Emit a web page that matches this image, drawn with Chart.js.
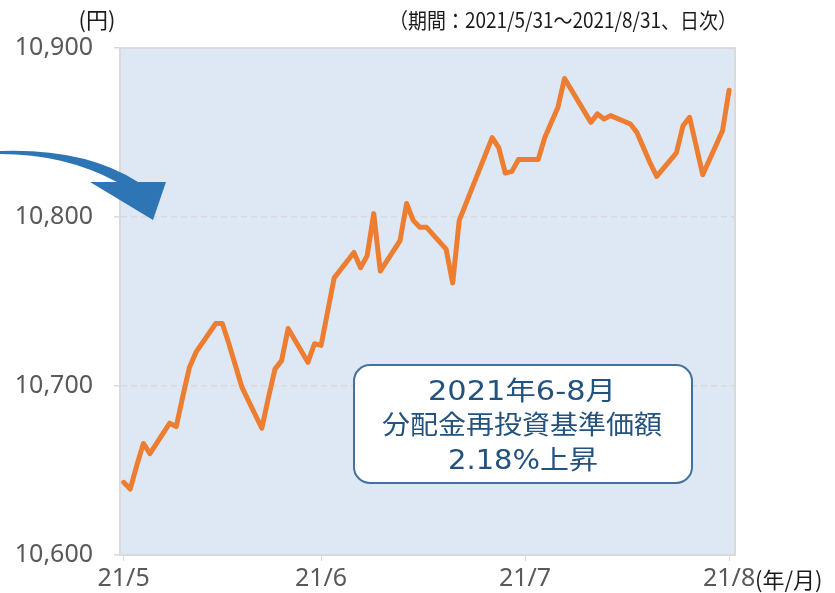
<!DOCTYPE html>
<html>
<head>
<meta charset="utf-8">
<script src="https://cdn.jsdelivr.net/npm/chart.js@4"></script>
<style>
  body { margin: 0; background: #fff; }
  canvas { display: block; }
</style>
</head>
<body>
<canvas id="NavCanvas" width="835" height="593"></canvas>
<script>
// 営業日 (2021/5/31 ~ 2021/8/31)
var navDates = [
    '2021/5/31',
    '2021/6/1', '2021/6/2', '2021/6/3', '2021/6/4', '2021/6/7', '2021/6/8', '2021/6/9', '2021/6/10', '2021/6/11',
    '2021/6/14', '2021/6/15', '2021/6/16', '2021/6/17', '2021/6/18', '2021/6/21', '2021/6/22', '2021/6/23', '2021/6/24',
    '2021/6/25', '2021/6/28', '2021/6/29', '2021/6/30',
    '2021/7/1', '2021/7/2', '2021/7/5', '2021/7/6', '2021/7/7', '2021/7/8', '2021/7/9', '2021/7/12', '2021/7/13',
    '2021/7/14', '2021/7/15', '2021/7/16', '2021/7/19', '2021/7/20', '2021/7/21', '2021/7/26', '2021/7/27', '2021/7/28',
    '2021/7/29', '2021/7/30',
    '2021/8/2', '2021/8/3', '2021/8/4', '2021/8/5', '2021/8/6', '2021/8/10', '2021/8/11', '2021/8/12', '2021/8/13',
    '2021/8/16', '2021/8/17', '2021/8/18', '2021/8/19', '2021/8/20', '2021/8/23', '2021/8/24', '2021/8/25', '2021/8/26',
    '2021/8/27', '2021/8/30', '2021/8/31'
];

// 分配金再投資基準価額 (円)
var navValues = [
    10643,
    10639, 10653, 10666, 10660, 10678, 10676, 10694, 10711, 10720,
    10737, 10737, 10725, 10712, 10699, 10675, 10693, 10710, 10715,
    10734, 10714, 10725, 10724,
    10744, 10764, 10779, 10770, 10777, 10802, 10768, 10786, 10808,
    10798, 10794, 10794, 10781, 10761, 10798, 10847, 10841, 10826,
    10827, 10834,
    10834, 10847, 10856, 10865, 10882, 10856, 10861, 10858, 10860,
    10855, 10850, 10841, 10832, 10824, 10838, 10854, 10859, 10842,
    10825, 10851, 10875
];

var tickDates = ['2021/5/31', '2021/6/30', '2021/7/31', '2021/8/31'];
var tickLabels = ['21/5', '21/6', '21/7', '21/8'];

var startDate = '2021/5/31';

function dayOffset(s) {
    var p = s.split('/');
    var q = startDate.split('/');
    return (Date.UTC(+p[0], p[1] - 1, +p[2]) - Date.UTC(+q[0], q[1] - 1, +q[2])) / 86400000;
}

var tickDays = tickDates.map(dayOffset);

var NavData = {
    datasets: [{
        label: '分配金再投資基準価額',
        data: navDates.map(function (d, i) { return { x: dayOffset(d), y: navValues[i] }; }),
        borderColor: '#ed7d31',
        borderWidth: 5,
        borderJoinStyle: 'round',
        borderCapStyle: 'round',
        pointRadius: 0,
        fill: false,
        tension: 0
    }]
};

var jpFont = '"Noto Sans CJK JP", sans-serif';

function fitText(ctx, text, cx, cy, w) {
    var m = ctx.measureText(text).width;
    ctx.save();
    ctx.translate(cx, cy);
    ctx.scale(w / m, 1);
    ctx.fillText(text, 0, 0);
    ctx.restore();
}

var decorPlugin = {
    id: 'decor',
    beforeDraw: function (chart) {
        var a = chart.chartArea, ctx = chart.ctx;
        ctx.save();
        ctx.fillStyle = '#dde8f4';
        ctx.fillRect(a.left, a.top, a.right - a.left, a.bottom - a.top);
        ctx.restore();
    },
    beforeDatasetsDraw: function (chart) {
        var a = chart.chartArea, ctx = chart.ctx;
        ctx.save();
        ctx.strokeStyle = '#dadada';
        ctx.lineWidth = 2;
        ctx.strokeRect(a.left, a.top, a.right - a.left, a.bottom - a.top);
        ctx.restore();
    },
    afterDraw: function (chart) {
        var ctx = chart.ctx;
        ctx.save();

        // 単位・期間
        ctx.fillStyle = '#1a1a1a';
        ctx.textBaseline = 'middle';
        ctx.font = '22px ' + jpFont;
        ctx.textAlign = 'center';
        ctx.fillText('(円)', 97, 20);
        ctx.font = '21px ' + jpFont;
        ctx.textAlign = 'right';
        ctx.fillText('（期間：2021/5/31～2021/8/31、日次）', 737, 20, 348);
        ctx.font = '22px ' + jpFont;
        ctx.textAlign = 'left';
        ctx.fillText('(年/月)', 755, 580);

        // 矢印
        ctx.fillStyle = '#2e75b6';
        ctx.beginPath();
        ctx.moveTo(0, 151);
        ctx.quadraticCurveTo(85, 148, 138, 182);
        ctx.lineTo(166, 182);
        ctx.lineTo(153, 220);
        ctx.lineTo(90, 182);
        ctx.lineTo(117, 182);
        ctx.quadraticCurveTo(65, 154, 0, 154);
        ctx.closePath();
        ctx.fill();

        // 注記ボックス
        var bx = 354, by = 365, bw = 338, bh = 118, r = 16;
        ctx.beginPath();
        ctx.moveTo(bx + r, by);
        ctx.arcTo(bx + bw, by, bx + bw, by + bh, r);
        ctx.arcTo(bx + bw, by + bh, bx, by + bh, r);
        ctx.arcTo(bx, by + bh, bx, by, r);
        ctx.arcTo(bx, by, bx + bw, by, r);
        ctx.closePath();
        ctx.fillStyle = '#ffffff';
        ctx.fill();
        ctx.lineWidth = 2;
        ctx.strokeStyle = '#41719c';
        ctx.stroke();

        ctx.fillStyle = '#24527e';
        ctx.textAlign = 'center';
        ctx.textBaseline = 'middle';
        ctx.font = '26px "DejaVu Sans", ' + jpFont;
        fitText(ctx, '2021年6-8月', 522, 393, 188);
        fitText(ctx, '分配金再投資基準価額', 522, 427, 280);
        fitText(ctx, '2.18%上昇', 523, 462, 150);

        ctx.restore();
    }
};

window.onload = function () {
    var NavCtx = document.getElementById('NavCanvas').getContext('2d');

    window.Nav = new Chart(NavCtx, {
        type: 'line',
        data: NavData,
        plugins: [decorPlugin],
        options: {
            responsive: false,
            animation: false,
            devicePixelRatio: 1,
            layout: {
                padding: { top: 48, right: 100, bottom: 0, left: 0 }
            },
            plugins: {
                legend: { display: false },
                tooltip: { enabled: false }
            },
            scales: {
                x: {
                    type: 'linear',
                    min: -0.55,
                    max: 92.9,
                    afterBuildTicks: function (s) {
                        s.ticks = tickDays.map(function (v) { return { value: v }; });
                    },
                    afterFit: function (s) { s.height = 38; },
                    ticks: {
                        autoSkip: false,
                        maxRotation: 0,
                        padding: 3,
                        color: '#595959',
                        font: { family: '"Noto Sans", sans-serif', size: 25 },
                        callback: function (v) {
                            var i = tickDays.indexOf(v);
                            return i >= 0 ? tickLabels[i] : '';
                        }
                    },
                    grid: {
                        drawOnChartArea: false,
                        tickLength: 6,
                        color: '#d9d9d9'
                    },
                    border: { color: '#d9d9d9', width: 2 }
                },
                y: {
                    min: 10600,
                    max: 10900,
                    afterFit: function (s) { s.width = 120; },
                    ticks: {
                        stepSize: 100,
                        padding: 21,
                        color: '#595959',
                        font: { family: '"Noto Sans", sans-serif', size: 25 },
                        callback: function (v) { return v.toLocaleString('en-US'); }
                    },
                    grid: {
                        color: '#d9d9d9',
                        lineWidth: 1.5,
                        tickLength: 6
                    },
                    border: { color: '#d9d9d9', width: 2, dash: [6, 4] }
                }
            }
        }
    });
};
</script>
</body>
</html>
